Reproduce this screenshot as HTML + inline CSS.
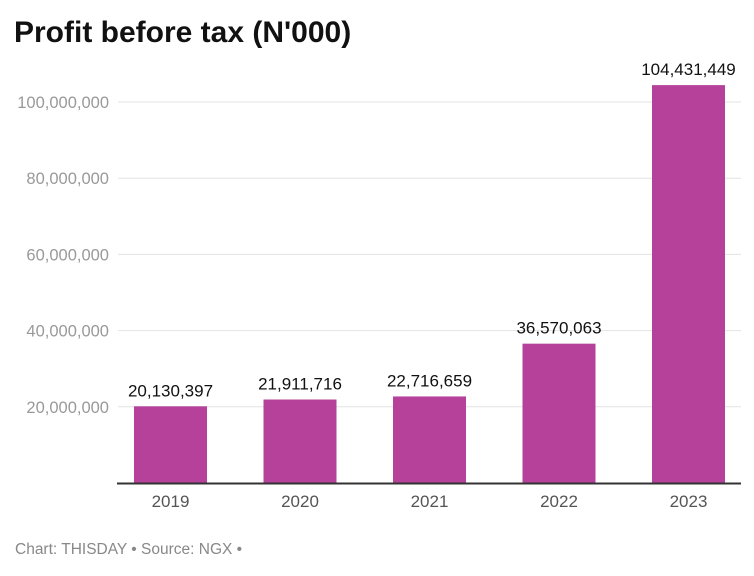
<!DOCTYPE html>
<html><head><meta charset="utf-8"><style>
body{margin:0;background:#fff;width:754px;height:571px;overflow:hidden;font-family:"Liberation Sans",sans-serif}
</style></head><body>
<svg width="754" height="571" xmlns="http://www.w3.org/2000/svg">
<text x="14" y="42" font-size="30" font-weight="bold" fill="#111">Profit before tax (N'000)</text>
<g id="grid"></g><g id="bars"></g><g id="labels"></g>
<line x1="117" x2="741" y1="483.5" y2="483.5" stroke="#333" stroke-width="2"/>
<text x="15" y="554" font-size="15.5" fill="#888">Chart: THISDAY • Source: NGX •</text>
</svg>
<script>
const categories=["2019","2020","2021","2022","2023"];
const values=[20130397,21911716,22716659,36570063,104431449];
const valueLabels=["20,130,397","21,911,716","22,716,659","36,570,063","104,431,449"];
const yTicks=[20000000,40000000,60000000,80000000,100000000];
const yTickLabels=["20,000,000","40,000,000","60,000,000","80,000,000","100,000,000"];
const NS="http://www.w3.org/2000/svg";
const y0=483,y100=102;
function y(v){return y0-(v/100000000)*(y0-y100);}
function xc(i){return 170.5+i*129.5;}
const bw=73;
function mk(t,a,p){const e=document.createElementNS(NS,t);for(const k in a)e.setAttribute(k,a[k]);p.appendChild(e);return e;}
const g=document.getElementById('grid'),b=document.getElementById('bars'),l=document.getElementById('labels');
yTicks.forEach((v,i)=>{
 const ln=mk('line',{x1:118,x2:741,y1:y(v),y2:y(v),stroke:'#e3e3e3','stroke-width':1},g);
 
 
 const t=mk('text',{x:109,y:y(v)+6,'text-anchor':'end','font-size':16.5,fill:'#999'},g);
 t.textContent=yTickLabels[i];
 
 
});
categories.forEach((c,i)=>{
 const r=mk('rect',{x:xc(i)-bw/2,y:y(values[i]),width:bw,height:y0-y(values[i]),fill:'#b5419a'},b);
 
 
 const vt=mk('text',{x:xc(i),y:y(values[i])-10,'text-anchor':'middle','font-size':17,fill:'#111'},l);
 vt.textContent=valueLabels[i];
 
 
 const xt=mk('text',{x:xc(i),y:507,'text-anchor':'middle','font-size':17,fill:'#555'},l);
 xt.textContent=c;
 
 
});
</script>
</body></html>
